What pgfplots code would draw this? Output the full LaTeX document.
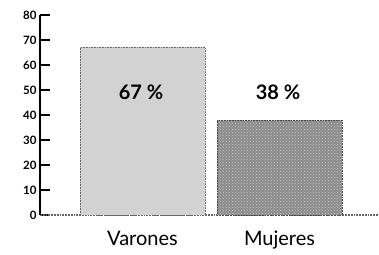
\documentclass[border=0pt]{standalone}
\usepackage{pgfplots}
\pgfplotsset{compat=1.18}
\usetikzlibrary{patterns}
\usepackage{fontspec}
\setmainfont{Lato}
\definecolor{lightbar}{HTML}{D2D2D2}
\definecolor{darkbar}{HTML}{8C8C8C}
\begin{document}
\begin{tikzpicture}[x=1pt,y=1pt]
\useasboundingbox (-40,-39) rectangle (339,215);
\begin{axis}[
  at={(0,0)}, anchor=south west,
  scale only axis, width=338pt, height=200pt,
  xmin=0, xmax=338, ymin=0, ymax=80,
  axis lines=left,
  axis line style={-},
  x axis line style={draw=gray!80!black, line width=1.8pt, densely dotted},
  y axis line style={black, line width=1.5pt},
  ytick={0,10,...,80},
  yticklabel style={font=\fontsize{11.5}{12}\selectfont\bfseries, text=black, xshift=0pt},
  /pgf/number format/assume math mode=true,
  y tick style={black, line width=1.2pt},
  major tick length=10pt,
  tick align=inside,
  xtick={102.5,239.5},
  xticklabels={Varones,Mujeres},
  x tick style={draw=none},
  xticklabel style={font=\fontsize{20}{22}\selectfont, anchor=base, yshift=-30pt},
  clip=false,
]
\addplot[ybar, bar width=125, fill=lightbar, draw=black!60, densely dotted, line width=0.6pt]
  coordinates {(102.5,67)};
\addplot[ybar, bar width=125, fill=darkbar, draw=black!70, densely dotted, line width=0.6pt,
  postaction={pattern=crosshatch dots, pattern color=gray!45}]
  coordinates {(239.5,38)};
\node[font=\fontsize{20}{22}\selectfont\bfseries] at (axis cs:101,49.2) {67 \%};
\node[font=\fontsize{20}{22}\selectfont\bfseries] at (axis cs:238,49.2) {38 \%};
\end{axis}
\end{tikzpicture}
\end{document}
